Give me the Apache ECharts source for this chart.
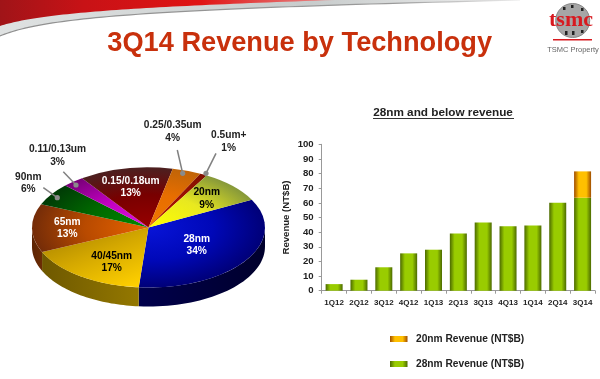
<!DOCTYPE html>
<html><head><meta charset="utf-8">
<style>html,body{margin:0;padding:0;background:#fff}#c{width:600px;height:379px}</style>
<script src="https://cdn.jsdelivr.net/npm/echarts@6/dist/echarts.min.js"></script>
</head><body><div id="c"></div>
<script>
// ---- data ----
const techNames = ['28nm','40/45nm','65nm','90nm','0.11/0.13um','0.15/0.18um','0.25/0.35um','0.5um+','20nm'];
const techShares = [34,17,13,6,3,13,4,1,9];
const quarters = ['1Q12','2Q12','3Q12','4Q12','1Q13','2Q13','3Q13','4Q13','1Q14','2Q14','3Q14'];
const rev28nm = [4.5,7.5,16,25.5,28,39,46.5,44,44.5,60,63.5];
const rev20nm = [null,null,null,null,null,null,null,null,null,null,18];
const yTickMax = 100, yTickStep = 10;

// ---- pie layout / styles ----
const P = {cx:148.5, cy:227.5, rx:116.5, ry:60, depth:19, start:-27.6};
const topStops = [
  ['#0814d8','#0008b8','#000078'],
  null,
  ['#e86400','#b84a00','#742c08'],
  ['#008c00','#006800','#003a06'],
  ['#e010e0','#c000c0','#780078'],
  ['#980000','#780000','#4c2020'],
  ['#f07800','#e86e00','#c06408'],
  ['#b01800','#a01000','#801000'],
  ['#ffff00','#e8e820','#86983a']
];
const goldFill = {type:'linear',x:0,y:0,x2:0.85,y2:1,colorStops:[
  {offset:0,color:'#a07c00'},{offset:.5,color:'#d4a800'},{offset:1,color:'#ffd000'}]};
const sideStops = [
  ['#00004c','#00002c'],['#6e5800','#947800'],['#5c2404','#6c2c04'],
  ['#000','#000'],['#000','#000'],['#000','#000'],['#000','#000'],['#000','#000'],['#00004c','#00004c']
];
const labelPos = [[196.7,245],[111.7,262],[67.3,228],[28.3,183],[57.5,155.5],[130.7,187],[172.7,131.5],[228.7,141.5],[206.7,198.5]];
const labelColor = ['#fff','#000','#fff','#222','#222','#fff','#222','#222','#000'];
const leaders = {3:[[43.3,187.7],[57.3,197.7]],4:[[63.3,171.7],[76,185]],6:[[177.3,150],[182.7,173.3]],7:[[216,153.3],[206,173.3]]};

const total = techShares.reduce((a,b)=>a+b,0);
const startAngles = []; let acc = P.start;
techShares.forEach(v=>{startAngles.push(acc); acc += v/total*360;});
const rad = d=>d*Math.PI/180;

function renderSlice(params, api){
  const i = params.dataIndex, v = api.value(0);
  const a0 = startAngles[i], a1 = a0 + v/total*360;
  const children = [];
  const s = Math.max(a0,0), e = Math.min(a1,180);
  if(e>s){
    const up=[],down=[];
    for(let k=0;k<=40;k++){
      const t=rad(s+(e-s)*k/40), x=P.cx+P.rx*Math.cos(t), y=P.cy+P.ry*Math.sin(t);
      up.push([x,y]); down.unshift([x,y+P.depth]);
    }
    children.push({type:'polygon',shape:{points:up.concat(down)},style:{fill:{
      type:'linear',x:0,y:0,x2:1,y2:0,colorStops:[{offset:0,color:sideStops[i][0]},{offset:1,color:sideStops[i][1]}]}}});
  }
  const c = topStops[i];
  const fill = c ? {type:'radial',x:0,y:0,r:P.rx,global:true,colorStops:[
      {offset:0,color:c[0]},{offset:0.55,color:c[1]},{offset:1,color:c[2]}]} : goldFill;
  children.push({type:'group',x:P.cx,y:P.cy,scaleY:P.ry/P.rx,children:[{
    type:'sector',
    shape:{cx:0,cy:0,r0:0,r:P.rx,startAngle:rad(a0),endAngle:rad(a1),clockwise:true},
    style:{fill}
  }]});
  return {type:'group',children};
}
function renderLabel(params, api){
  const i = params.dataIndex, children = [];
  const l = leaders[i];
  if(l){
    children.push({type:'line',shape:{x1:l[0][0],y1:l[0][1],x2:l[1][0],y2:l[1][1]},style:{stroke:'#808080',lineWidth:1.5}});
    children.push({type:'circle',shape:{cx:l[1][0],cy:l[1][1],r:2.6},style:{fill:'#8a8a8a'}});
  }
  children.push({type:'text',x:labelPos[i][0],y:labelPos[i][1],style:{
    text:techNames[i]+'\n'+api.value(0)+'%',fill:labelColor[i],align:'center',verticalAlign:'middle',
    font:'bold 10.2px "Liberation Sans"',lineHeight:12.4}});
  return {type:'group',children};
}

// ---- header swoosh ----
function bez(p0,p1,p2,p3,n){
  const o=[];for(let k=0;k<=n;k++){const t=k/n,u=1-t;
    o.push([u*u*u*p0[0]+3*u*u*t*p1[0]+3*u*t*t*p2[0]+t*t*t*p3[0],u*u*u*p0[1]+3*u*u*t*p1[1]+3*u*t*t*p2[1]+t*t*t*p3[1]]);}
  return o;
}
const redEdge = bez([0,26],[40,13],[130,7],[335,0],60);
const grayBand = bez([0,36],[45,17],[150,9],[520,0],60);
const graphics = [
  {type:'polygon',silent:true,shape:{points:[[0,0]].concat(grayBand).concat([[520,0]])},
    style:{fill:{type:'linear',x:0,y:0,x2:1,y2:0,colorStops:[{offset:0,color:'#dfe2e2'},{offset:.6,color:'#c8cccc'},{offset:1,color:'#f0f0f0'}]}}},
  {type:'polyline',silent:true,shape:{points:grayBand},style:{stroke:{type:'linear',x:0,y:0,x2:1,y2:0,colorStops:[{offset:0,color:'#8f8f8f'},{offset:.75,color:'#9a9a9a'},{offset:1,color:'#eeeeee'}]},lineWidth:1.2,fill:'none'}},
  {type:'polygon',silent:true,shape:{points:[[0,0]].concat(redEdge)},
    style:{fill:{type:'linear',x:0,y:0,x2:1,y2:0,colorStops:[{offset:0,color:'#a01418'},{offset:.25,color:'#c81216'},{offset:.6,color:'#e01414'},{offset:1,color:'#e89090'}]}}},
  // logo
  {type:'circle',silent:true,shape:{cx:572.7,cy:20.5,r:17},style:{fill:'#a6a6a6',stroke:'#888',lineWidth:1}},
  {type:'rect',silent:true,shape:{x:563,y:7,width:2.5,height:3},style:{fill:'#222'}},
  {type:'rect',silent:true,shape:{x:571,y:5,width:2.5,height:3},style:{fill:'#222'}},
  {type:'rect',silent:true,shape:{x:581,y:8,width:2.5,height:3},style:{fill:'#222'}},
  {type:'rect',silent:true,shape:{x:565,y:31,width:2.5,height:4},style:{fill:'#222'}},
  {type:'rect',silent:true,shape:{x:572,y:31,width:2.5,height:4},style:{fill:'#222'}},
  {type:'rect',silent:true,shape:{x:581,y:30,width:2.5,height:3},style:{fill:'#222'}},
  {type:'text',silent:true,x:571,y:20.5,style:{text:'tsmc',fill:'#d81a20',align:'center',verticalAlign:'middle',font:'bold 22px "Liberation Serif"'}},
  {type:'rect',silent:true,shape:{x:553,y:39,width:39,height:1.5},style:{fill:'#d81a20'}},
  {type:'text',silent:true,x:573,y:49.5,style:{text:'TSMC Property',fill:'#666',align:'center',verticalAlign:'middle',font:'7.5px "Liberation Sans"'}},
  // underline of the right-hand heading
  {type:'rect',silent:true,shape:{x:373,y:118,width:141,height:1},style:{fill:'#333'}}
];

const grad = (edge,mid)=>({type:'linear',x:0,y:0,x2:1,y2:0,colorStops:[
  {offset:0,color:edge},{offset:.28,color:mid},{offset:.72,color:mid},{offset:1,color:edge}]});

const chart = echarts.init(document.getElementById('c'),null,{renderer:'canvas'});
chart.setOption({
  animation:false,
  backgroundColor:'#fff',
  title:[
    {text:'3Q14 Revenue by Technology',left:299.7,top:30,textAlign:'center',padding:0,
      textStyle:{color:'#c8300c',fontFamily:'Liberation Sans',fontWeight:'bold',fontSize:27.2}},
    {text:'28nm and below revenue',left:443,top:106.5,textAlign:'center',padding:0,
      textStyle:{color:'#222',fontFamily:'Liberation Sans',fontWeight:'bold',fontSize:11.75}}
  ],
  legend:{orient:'vertical',left:390,top:334,padding:0,itemWidth:17.5,itemHeight:6,itemGap:15,icon:'rect',
    data:['20nm Revenue (NT$B)','28nm Revenue (NT$B)'],
    textStyle:{color:'#222',fontFamily:'Liberation Sans',fontWeight:'bold',fontSize:10.2,padding:[0,0,0,3.5]}},
  grid:{left:321.7,right:5,top:144.3,bottom:88.3,containLabel:false},
  xAxis:{type:'category',data:quarters,
    axisLine:{lineStyle:{color:'#999'}},axisTick:{show:true,length:3,alignWithLabel:false,lineStyle:{color:'#999'}},
    axisLabel:{color:'#222',fontFamily:'Liberation Sans',fontWeight:'bold',fontSize:8,margin:8,interval:0}},
  yAxis:{type:'value',min:0,max:yTickMax,interval:yTickStep,name:'Revenue (NT$B)',nameLocation:'middle',nameGap:30,
    nameTextStyle:{color:'#222',fontFamily:'Liberation Sans',fontWeight:'bold',fontSize:9.6},
    axisLine:{show:true,lineStyle:{color:'#999'}},axisTick:{show:true,length:3,lineStyle:{color:'#999'}},splitLine:{show:false},
    axisLabel:{color:'#222',fontFamily:'Liberation Sans',fontWeight:'bold',fontSize:9.6,margin:8}},
  graphic:graphics,
  series:[
    {name:'28nm Revenue (NT$B)',type:'bar',stack:'r',data:rev28nm,barWidth:17,itemStyle:{color:grad('#4c6a00','#99cc00')}},
    {name:'20nm Revenue (NT$B)',type:'bar',stack:'r',data:rev20nm,barWidth:17,itemStyle:{color:grad('#a04c00','#ffc000')}},
    {type:'custom',coordinateSystem:'none',renderItem:renderSlice,data:techShares.map(v=>[v]),z:3,silent:true},
    {type:'custom',coordinateSystem:'none',renderItem:renderLabel,data:techShares.map(v=>[v]),z:4,silent:true}
  ]
});
</script></body></html>
